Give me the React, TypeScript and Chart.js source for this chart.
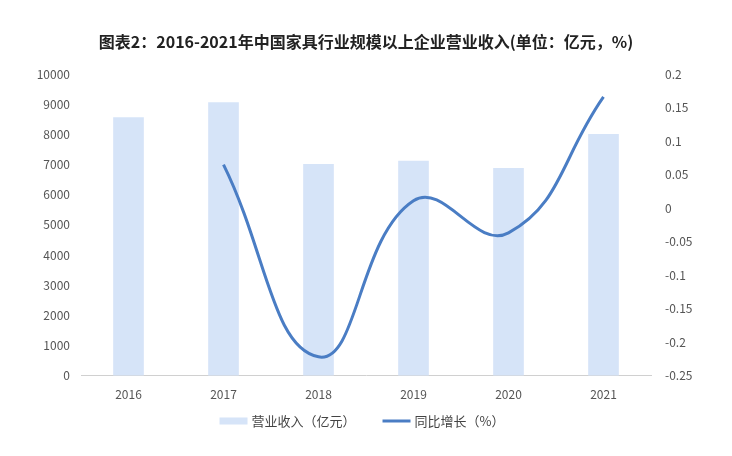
import React, { useEffect, useRef } from "react";
import { Chart, registerables } from "chart.js";

Chart.register(...registerables);

const TITLE = "图表2：2016-2021年中国家具行业规模以上企业营业收入(单位：亿元，%)";
const YEARS = ["2016", "2017", "2018", "2019", "2020", "2021"];
const REVENUE = [8560, 9056, 7012, 7117, 6875, 8005];
const GROWTH = [null, 0.065, -0.222, 0.011, -0.037, 0.166];
const REVENUE_LABEL = "营业收入（亿元）";
const GROWTH_LABEL = "同比增长（%）";

const FONT = "'Noto Sans CJK SC', 'Noto Sans', sans-serif";
const BAR_COLOR = "#d6e4f8";
const LINE_COLOR = "#4a7dc4";

const legendPlugin = {
  id: "customLegend",
  afterDraw(chart: any) {
    const ctx = chart.ctx as CanvasRenderingContext2D;
    ctx.save();
    ctx.font = `13px ${FONT}`;
    ctx.fillStyle = "#444";
    ctx.textBaseline = "middle";
    const sw = 28;
    const gap = 4;
    const sep = 27;
    const t1 = ctx.measureText(REVENUE_LABEL).width;
    const t2 = ctx.measureText(GROWTH_LABEL).width;
    const total = sw + gap + t1 + sep + sw + gap + t2;
    const cy = 421;
    let x = 362 - total / 2;
    ctx.fillStyle = BAR_COLOR;
    ctx.fillRect(x, cy - 3.5, sw, 7);
    x += sw + gap;
    ctx.fillStyle = "#444";
    ctx.fillText(REVENUE_LABEL, x, cy);
    x += t1 + sep;
    ctx.strokeStyle = LINE_COLOR;
    ctx.lineWidth = 3;
    ctx.beginPath();
    ctx.moveTo(x, cy);
    ctx.lineTo(x + sw, cy);
    ctx.stroke();
    x += sw + gap;
    ctx.fillText(GROWTH_LABEL, x, cy);
    ctx.restore();
  },
};

export default function App() {
  const ref = useRef<HTMLCanvasElement | null>(null);

  useEffect(() => {
    if (!ref.current) return;
    const chart = new Chart(ref.current, {
      data: {
        labels: YEARS,
        datasets: [
          {
            type: "line",
            label: GROWTH_LABEL,
            data: GROWTH as any,
            yAxisID: "y1",
            borderColor: LINE_COLOR,
            backgroundColor: LINE_COLOR,
            borderWidth: 3,
            pointRadius: 0,
            tension: 0.45,
            spanGaps: false,
            order: 0,
          } as any,
          {
            type: "bar",
            label: REVENUE_LABEL,
            data: REVENUE,
            yAxisID: "y",
            backgroundColor: BAR_COLOR,
            borderWidth: 0,
            barThickness: 30,
            order: 1,
          } as any,
        ],
      },
      options: {
        animation: false,
        responsive: false,
        maintainAspectRatio: false,
        layout: { padding: { left: 0, right: 0, top: 0, bottom: 42 } },
        plugins: {
          title: {
            display: true,
            text: TITLE,
            color: "#222",
            font: { family: FONT, size: 16, weight: "bold" },
            padding: { top: 32, bottom: 23 },
          },
          legend: { display: false },
          tooltip: { enabled: false },
        },
        scales: {
          x: {
            grid: { display: false, drawTicks: false },
            border: { display: true, color: "#d0d0d0", width: 1 },
            ticks: { color: "#555", font: { family: FONT, size: 12 }, padding: 12 },
          },
          y: {
            position: "left",
            min: 0,
            max: 10000,
            grid: { display: false, drawTicks: false },
            border: { display: false },
            ticks: {
              stepSize: 1000,
              color: "#555",
              font: { family: FONT, size: 12 },
              padding: 11,
              callback: (v: any) => String(v),
            },
            afterFit: (s: any) => {
              s.width = 81;
            },
          },
          y1: {
            position: "right",
            min: -0.25,
            max: 0.2,
            grid: { display: false, drawTicks: false },
            border: { display: false },
            ticks: {
              stepSize: 0.05,
              color: "#555",
              font: { family: FONT, size: 12 },
              padding: 14,
              callback: (v: any) => String(Math.round(Number(v) * 100) / 100),
            },
            afterFit: (s: any) => {
              s.width = 81;
            },
          },
        },
      },
      plugins: [legendPlugin],
    });
    return () => chart.destroy();
  }, []);

  return (
    <div style={{ position: "fixed", left: 0, top: 0, width: 732, height: 456, background: "#fff" }}>
      <canvas ref={ref} width={732} height={456} style={{ width: 732, height: 456 }} />
    </div>
  );
}
